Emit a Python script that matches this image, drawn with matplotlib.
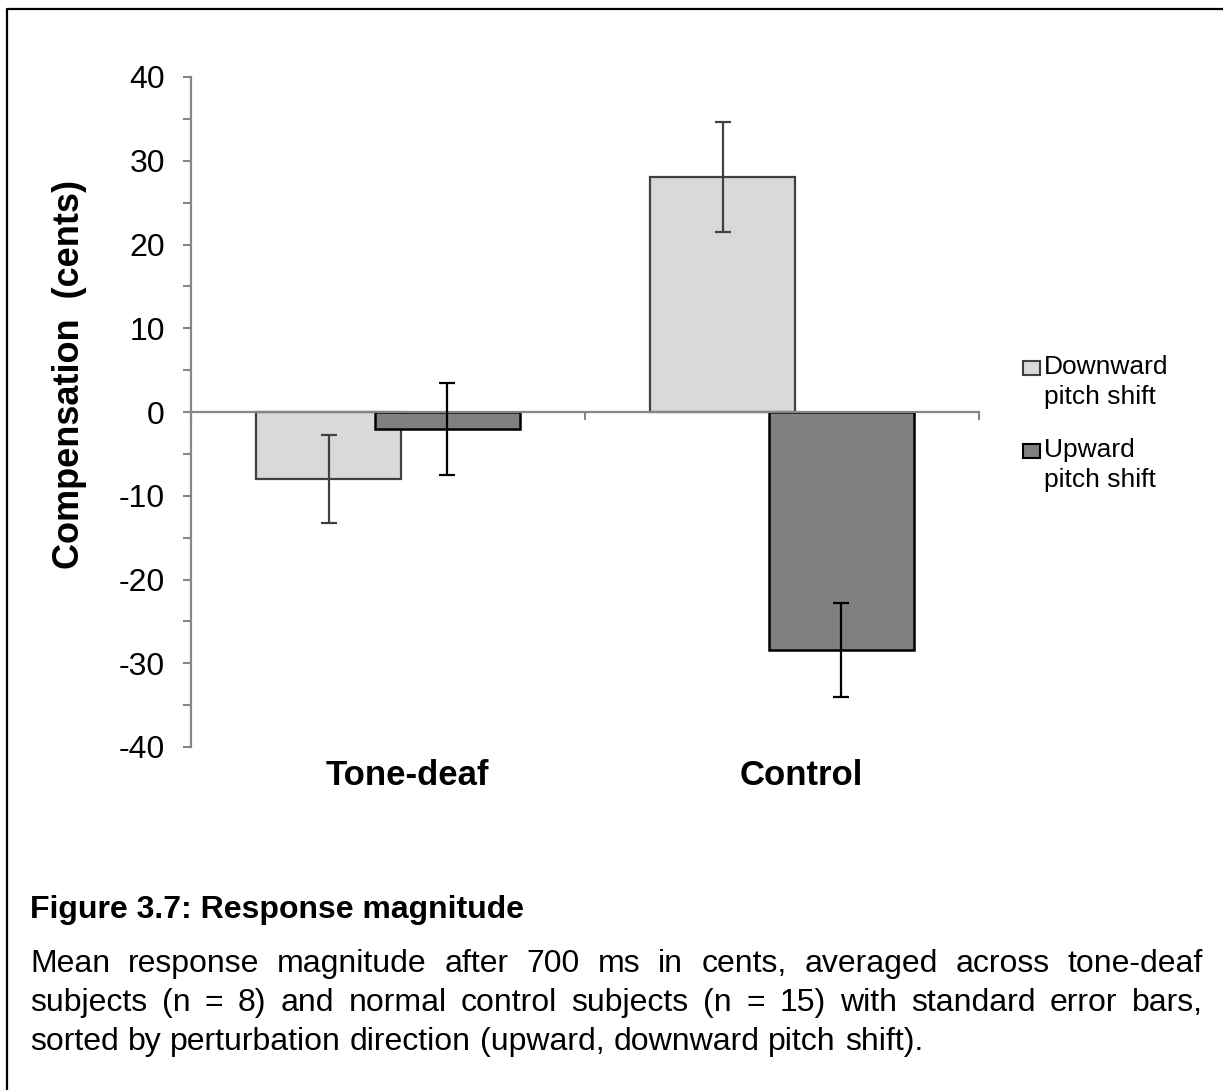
import matplotlib

matplotlib.use("Agg")
import matplotlib.pyplot as plt
from matplotlib.font_manager import FontProperties
from matplotlib.lines import Line2D
from matplotlib.patches import Rectangle
from matplotlib.ticker import MultipleLocator
import numpy as np

FONT = "Liberation Sans"
plt.rcParams["font.family"] = [FONT, "DejaVu Sans"]

# Mean compensation (cents) and standard errors per group
groups = ["Tone-deaf", "Control"]
series_labels = [["Downward", "pitch shift"], ["Upward", "pitch shift"]]
downward_mean = [-8.0, 28.1]
downward_se = [5.25, 6.55]
upward_mean = [-2.0, -28.4]
upward_se = [5.5, 5.6]

y_ticks = [-40, -30, -20, -10, 0, 10, 20, 30, 40]

caption_title = "Figure 3.7: Response magnitude"
caption_lines = [
    "Mean response magnitude after 700 ms in cents, averaged across tone-deaf",
    "subjects (n = 8) and normal control subjects (n = 15) with standard error bars,",
    "sorted by perturbation direction (upward, downward pitch shift).",
]

LIGHT = "#d9d9d9"
DARK = "#808080"
LIGHT_EDGE = "#404040"
AXIS_GREY = "#868686"

W, H = 1223, 1090
fig = plt.figure(figsize=(W / 100, H / 100), dpi=100)
ax = fig.add_axes([191 / W, 1 - 747 / H, (979 - 191) / W, (747 - 77) / H])

x = np.arange(len(groups))
offset, width = 0.15, 0.368
ax.bar(x - offset, downward_mean, width, color=LIGHT, edgecolor=LIGHT_EDGE,
       linewidth=1.6, zorder=1)
ax.bar(x + offset, upward_mean, width, color=DARK, edgecolor="black",
       linewidth=1.8, zorder=1.2)
ax.errorbar(x - offset, downward_mean, yerr=downward_se, fmt="none",
            ecolor=LIGHT_EDGE, elinewidth=1.6, capsize=6, capthick=1.6, zorder=3)
ax.errorbar(x + offset, upward_mean, yerr=upward_se, fmt="none",
            ecolor="black", elinewidth=1.6, capsize=6, capthick=1.6, zorder=3)

ax.set_xlim(-0.5, len(groups) - 0.5)
ax.set_ylim(-40, 40)
ax.set_yticks(y_ticks)
ax.set_yticklabels([str(v) for v in y_ticks])
ax.yaxis.set_minor_locator(MultipleLocator(5))
ax.tick_params(axis="y", which="both", direction="out", length=5.8, width=1.5,
               color=AXIS_GREY, labelsize=23, pad=13)

# category axis sits on zero, with ticks at group boundaries
for side in ("top", "right"):
    ax.spines[side].set_visible(False)
ax.spines["left"].set_color(AXIS_GREY)
ax.spines["left"].set_linewidth(1.6)
ax.spines["bottom"].set_position(("data", 0))
ax.spines["bottom"].set_color(AXIS_GREY)
ax.spines["bottom"].set_linewidth(1.6)
ax.set_xticks(np.arange(len(groups) + 1) - 0.5)
ax.set_xticklabels([])
ax.tick_params(axis="x", direction="out", length=5.8, width=1.5, color=AXIS_GREY)

for xi, g in zip(x, groups):
    ax.text(xi + 0.05, -0.042, g, transform=ax.get_xaxis_transform(),
            ha="center", va="center", fontsize=25, fontweight="bold")

ax.set_ylabel("Compensation  (cents)", fontsize=26, fontweight="bold")
ax.yaxis.set_label_coords(-0.132, 0.556)

# legend: swatch beside the first line of each two-line label
for i, (lines, face, edge) in enumerate(zip(series_labels, (LIGHT, DARK),
                                            (LIGHT_EDGE, "black"))):
    y0 = 367 + i * 83
    fig.add_artist(Rectangle((1023 / W, 1 - (y0 + 8) / H), 17 / W, 14 / H,
                             transform=fig.transFigure, facecolor=face,
                             edgecolor=edge, linewidth=1.5))
    for j, line in enumerate(lines):
        fig.text(1044 / W, 1 - (y0 + j * 30) / H, line, fontsize=19,
                 ha="left", va="center")

# frame lines on the left and top edges
fig.add_artist(Line2D([7 / W, 7 / W, 1], [0, 1 - 9 / H, 1 - 9 / H],
                      transform=fig.transFigure, color="black", linewidth=1.6))

# caption, body justified between the margins
CAP_SIZE = 23
fig.text(30 / W, 1 - 910 / H, caption_title, fontsize=CAP_SIZE,
         fontweight="bold", ha="left", va="center")

renderer = fig.canvas.get_renderer()
prop = FontProperties(family=FONT, size=CAP_SIZE)


def text_width(s):
    return renderer.get_text_width_height_descent(s, prop, ismath=False)[0]


space_w = text_width("a b") - text_width("ab")
left_px, right_px = 30, 1203
for k, line in enumerate(caption_lines):
    words = line.split(" ")
    widths = [text_width(w) for w in words]
    if k < len(caption_lines) - 1:
        gap = (right_px - left_px - sum(widths)) / (len(words) - 1)
    else:
        gap = space_w
    cx = left_px
    ypx = 964 + k * 39
    for w, wd in zip(words, widths):
        fig.text(cx / W, 1 - ypx / H, w, fontproperties=prop, ha="left",
                 va="center")
        cx += wd + gap

fig.savefig("out.png", dpi=100)
